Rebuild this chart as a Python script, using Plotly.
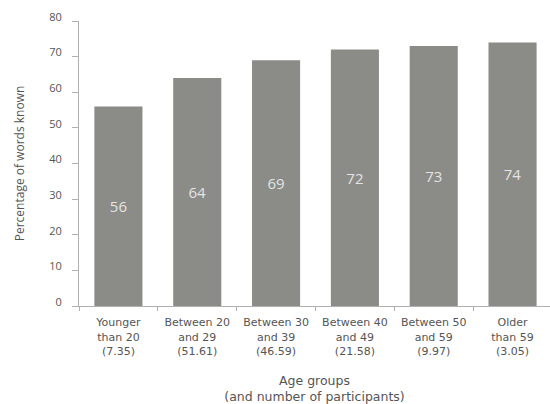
import plotly.graph_objects as go

categories = [
    "Younger<br>than 20<br>(7.35)",
    "Between 20<br>and 29<br>(51.61)",
    "Between 30<br>and 39<br>(46.59)",
    "Between 40<br>and 49<br>(21.58)",
    "Between 50<br>and 59<br>(9.97)",
    "Older<br>than 59<br>(3.05)",
]
values = [56, 64, 69, 72, 73, 74]
y_ticks = [0, 10, 20, 30, 40, 50, 60, 70, 80]

main_font = "Open Sans, Lato, sans-serif"
wide_font = "DejaVu Sans, Open Sans, sans-serif"
text_color = "#555555"
axis_color = "#b0b0b0"

fig = go.Figure(
    go.Bar(
        x=categories,
        y=values,
        width=0.61,
        marker=dict(color="#8b8b87", line=dict(width=0)),
        text=[str(v) for v in values],
        textposition="inside",
        insidetextanchor="middle",
        textfont=dict(color="#e4e4e4", size=15, family=main_font),
        cliponaxis=False,
    )
)

fig.update_layout(
    width=550,
    height=404,
    margin=dict(l=79, r=0, t=21, b=98),
    paper_bgcolor="white",
    plot_bgcolor="white",
    showlegend=False,
    font=dict(family=main_font, color=text_color, size=11),
)

fig.update_xaxes(
    type="category",
    range=[-0.5, 5.475],
    showline=True,
    linecolor=axis_color,
    linewidth=1,
    ticks="outside",
    tickson="boundaries",
    ticklen=4,
    tickcolor=axis_color,
    ticklabelstandoff=6,
    tickfont=dict(size=11, color=text_color, family=wide_font),
    showgrid=False,
    title=dict(
        text="Age groups<br>(and number of participants)",
        font=dict(size=12.5, color=text_color, family=wide_font),
        standoff=19,
    ),
)

fig.update_yaxes(
    range=[0, 80],
    tickvals=y_ticks,
    showline=True,
    linecolor=axis_color,
    linewidth=1,
    ticks="outside",
    ticklen=6,
    tickcolor=axis_color,
    ticklabelstandoff=8,
    ticklabelshift=-4,
    tickfont=dict(size=11, color=text_color, family=main_font),
    showgrid=False,
    zeroline=False,
    title=dict(
        text="Percentage of words known",
        font=dict(size=12, color=text_color, family=main_font),
        standoff=22,
    ),
)

fig.write_html("out.html")
